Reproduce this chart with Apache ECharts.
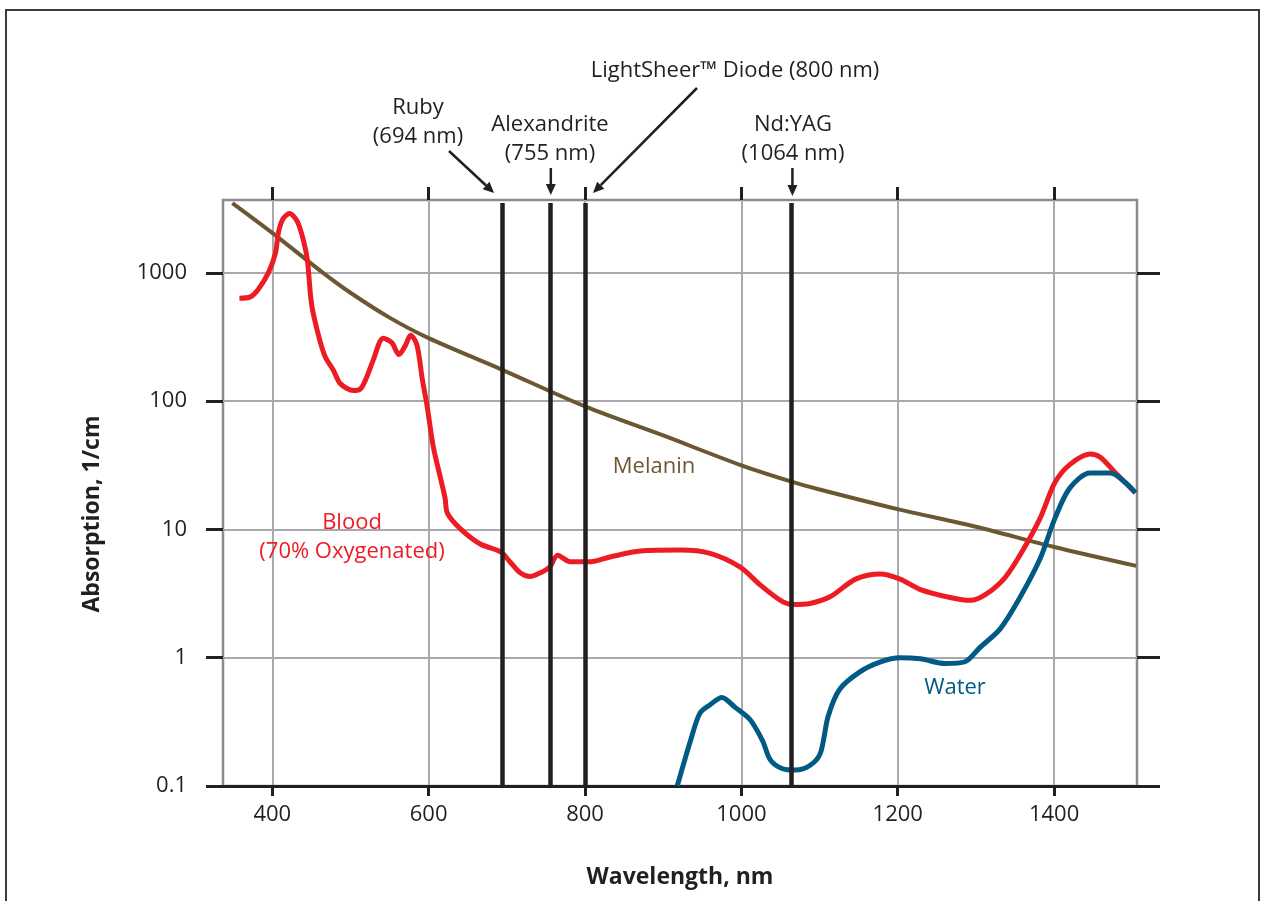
<!DOCTYPE html>
<html>
<head>
<meta charset="utf-8">
<script src="https://cdn.jsdelivr.net/npm/echarts@6/dist/echarts.min.js"></script>
<style>
  html, body { margin: 0; background: #fff; }
  #main { width: 1261px; height: 901px; }
</style>
</head>
<body>
<div id="main"></div>
<script>
// wavelength ticks (nm) and absorption decades (1/cm)
const xTicks = [400, 600, 800, 1000, 1200, 1400];
const yTicks = [0.1, 1, 10, 100, 1000];

// [wavelength nm, absorption 1/cm]
const melanin = [[349, 3500], [400, 2050], [465, 1000], [500, 700], [550, 448], [600, 310],
  [692, 178], [800, 91], [900, 54], [1000, 31.6], [1064, 23.6], [1100, 20.5], [1200, 14.4],
  [1300, 10.5], [1400, 7.3], [1505, 5.2]];

const blood = [[358, 635], [372, 650], [382, 743], [395, 1000], [404, 1417], [408, 2080],
  [414, 2650], [422, 2900], [432, 2520], [440, 1780], [445, 1250], [449, 660], [452, 495],
  [461, 295], [468, 220], [478, 175], [487, 137], [504, 121], [513, 125], [521, 155],
  [529, 208], [542, 310], [553, 285], [562, 231], [570, 270], [577, 327], [585, 275],
  [592, 147], [598, 92], [606, 44], [615, 25.4], [621, 17.6], [624, 13.4], [640, 10.2],
  [666, 7.7], [692, 6.7], [704, 5.6], [717, 4.6], [730, 4.3], [743, 4.6], [755, 5.1],
  [765, 6.3], [781, 5.6], [807, 5.6], [832, 6.1], [871, 6.8], [922, 6.9], [960, 6.5],
  [998, 5.1], [1024, 3.7], [1050, 2.8], [1065, 2.6], [1088, 2.65], [1114, 3.0],
  [1146, 4.1], [1178, 4.5], [1203, 4.1], [1229, 3.4], [1267, 2.95], [1293, 2.8],
  [1312, 3.1], [1337, 4.2], [1357, 6.4], [1382, 12.2], [1401, 23.2], [1420, 32],
  [1446, 38.7], [1459, 36.6], [1478, 27.8], [1504, 19.3]];

const water = [[918, 0.1], [935, 0.226], [947, 0.37], [960, 0.43], [975, 0.49], [992, 0.41],
  [1011, 0.33], [1027, 0.226], [1037, 0.16], [1052, 0.137], [1069, 0.133], [1088, 0.145],
  [1101, 0.18], [1111, 0.35], [1126, 0.57], [1152, 0.78], [1178, 0.93], [1203, 1.0],
  [1229, 0.98], [1261, 0.9], [1286, 0.93], [1305, 1.2], [1331, 1.68], [1357, 3.0],
  [1382, 5.9], [1401, 12.2], [1420, 21], [1446, 27.5], [1472, 27.5], [1491, 23.2],
  [1504, 19.3]];

// laser lines
const lasers = [694, 755, 800, 1064];
const laserNames = ['Ruby\n(694 nm)', 'Alexandrite\n(755 nm)', 'LightSheer™ Diode (800 nm)', 'Nd:YAG\n(1064 nm)'];

const FONT = '"Open Sans", "Noto Sans", sans-serif';
const INK = '#231f20';
const GRID = '#a7a9ac';

const chart = echarts.init(document.getElementById('main'));

// small nudge so the 0.1 tick survives float rounding of the log extent
const yCustom = yTicks.map(v => v * 1.0000001);
const decadeLabel = v => {
  const l = Math.round(Math.log10(v));
  return ({'-1': '0.1', '0': '1', '1': '10', '2': '100', '3': '1000'})[l] || '';
};

const option = {
  animation: false,
  grid: {
    left: 223, top: 200, right: 124, bottom: 115,
    show: true, borderColor: '#8c8c8c', borderWidth: 2.5
  },
  xAxis: [{
    type: 'value', min: 337, max: 1506, position: 'bottom',
    axisLine: { show: true, lineStyle: { color: INK, width: 3 } },
    axisTick: { show: true, customValues: xTicks, length: 10, lineStyle: { color: INK, width: 3 } },
    axisLabel: { customValues: xTicks, formatter: v => String(v), margin: 18, color: INK, fontSize: 22, fontFamily: FONT },
    splitLine: { show: true, lineStyle: { color: GRID, width: 2 } },
    name: 'Wavelength, nm', nameLocation: 'middle', nameGap: 80,
    nameTextStyle: { color: INK, fontSize: 23, fontWeight: 'bold', fontFamily: FONT }
  }, {
    type: 'value', min: 337, max: 1506, position: 'top',
    axisLine: { show: false },
    axisTick: { show: true, customValues: xTicks, length: 13, lineStyle: { color: INK, width: 3 } },
    axisLabel: { show: false },
    splitLine: { show: false }
  }],
  yAxis: [{
    type: 'log', logBase: 10, min: 0.1, max: 3700, position: 'left',
    axisLine: { show: false },
    axisTick: { show: true, customValues: yCustom, length: 17, lineStyle: { color: INK, width: 3 } },
    axisLabel: { customValues: yCustom, formatter: decadeLabel, margin: 36, color: INK, fontSize: 22, fontFamily: FONT },
    splitLine: { show: true, lineStyle: { color: GRID, width: 2 } }
  }, {
    type: 'log', logBase: 10, min: 0.1, max: 3700, position: 'right',
    axisLine: { show: false },
    axisTick: { show: true, customValues: yCustom, length: 23, lineStyle: { color: INK, width: 3 } },
    axisLabel: { show: false },
    splitLine: { show: false }
  }],
  series: [{
    name: 'Lasers', type: 'line', data: [], silent: true,
    markLine: {
      silent: true, symbol: 'none', label: { show: false }, animation: false,
      lineStyle: { color: INK, width: 4.5, type: 'solid' },
      data: lasers.map(nm => [{ coord: [nm, 3500] }, { coord: [nm, 0.1] }])
    }
  }, {
    name: 'Melanin', type: 'line', data: melanin, smooth: 0.3, showSymbol: false,
    lineStyle: { color: '#6b5833', width: 4 }, z: 3
  }, {
    name: 'Blood', type: 'line', data: blood, smooth: 0.3, showSymbol: false,
    lineStyle: { color: '#ed1c24', width: 5 }, z: 4
  }, {
    name: 'Water', type: 'line', data: water, smooth: 0.3, showSymbol: false,
    lineStyle: { color: '#005a84', width: 5 }, z: 4
  }]
};

chart.setOption(option);

// arrow made of a shaft and a filled head
function arrow(x1, y1, x2, y2) {
  const a = Math.atan2(y2 - y1, x2 - x1), L = 11, W = 5;
  const bx = x2 - L * Math.cos(a), by = y2 - L * Math.sin(a);
  return [
    { type: 'line', shape: { x1: x1, y1: y1, x2: bx, y2: by }, style: { stroke: INK, lineWidth: 2.5 } },
    { type: 'polygon', shape: { points: [[x2, y2], [bx - W * Math.sin(a), by + W * Math.cos(a)], [bx + W * Math.sin(a), by - W * Math.cos(a)]] },
      style: { fill: INK } }
  ];
}

function text(str, x, y, color, font) {
  return {
    type: 'text', x: x, y: y, z: 10,
    style: { text: str, fill: color, font: font || ('22px ' + FONT), align: 'center', verticalAlign: 'middle', lineHeight: 29 }
  };
}

const px = lasers.map(nm => chart.convertToPixel({ xAxisIndex: 0 }, nm));
const yName = text('Absorption, 1/cm', 92, 514, INK, 'bold 23px ' + FONT);
yName.rotation = Math.PI / 2;

const graphics = [
  { type: 'rect', shape: { x: 6, y: 10, width: 1253, height: 900 }, style: { fill: 'none', stroke: '#3a3a3a', lineWidth: 2 } },
  yName,
  text(laserNames[0], 418, 122, INK),
  text(laserNames[1], 550, 139, INK),
  text(laserNames[2], 735, 71, INK),
  text(laserNames[3], 793, 139, INK),
  ...arrow(449, 151, px[0] - 8, 193),
  ...arrow(px[1] + 1, 168, px[1] + 1, 195),
  ...arrow(697, 88, px[2] + 8, 193),
  ...arrow(px[3] + 1, 168, px[3] + 1, 196),
  text('Melanin', 654, 467, '#6b5833'),
  text('Blood\n(70% Oxygenated)', 352, 537, '#ed1c24'),
  text('Water', 955, 688, '#005a84')
];
chart.setOption({ graphic: graphics });
</script>
</body>
</html>
